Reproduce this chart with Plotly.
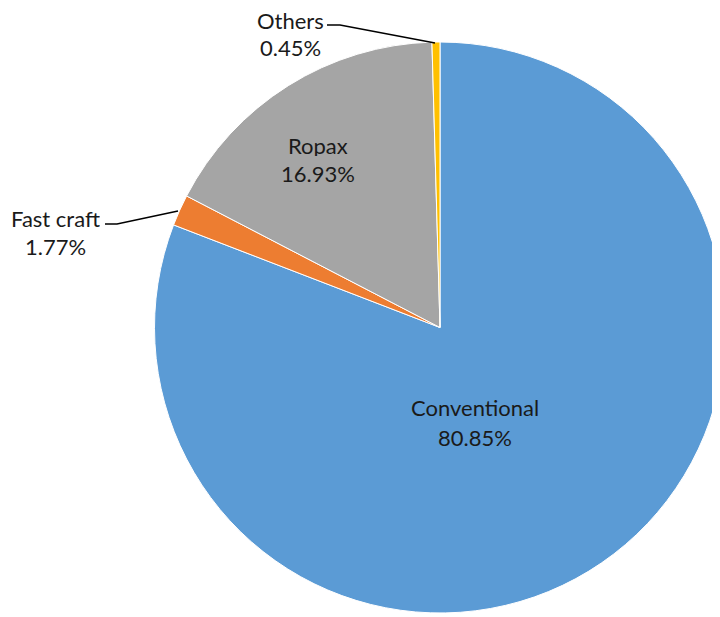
import plotly.graph_objects as go

labels = ["Conventional", "Fast craft", "Ropax", "Others"]
values = [80.85, 1.77, 16.93, 0.45]
colors = ["#5B9BD5", "#ED7D31", "#A5A5A5", "#FFC000"]

W, H = 720, 617
OFF = 8  # page body margin offset

def px(x, y):
    return (x - OFF) / W, 1 - (y - OFF) / H

# label placements (pixel centres for name line / percent line)
label_pos = {
    "Conventional": (475, 407, 437),
    "Ropax": (318, 145, 173),
    "Fast craft": (55, 218, 246),
    "Others": (290, 20, 47),
}
leaders = {
    "Fast craft": [(105, 224), (117, 224), (178, 211)],
    "Others": [(327, 25), (340, 25), (435, 43)],
}

x0, _ = px(153, 0)
x1, _ = px(727, 0)
_, y0 = px(0, 613)
_, y1 = px(0, 42)

fig = go.Figure(go.Pie(
    labels=labels,
    values=values,
    sort=False,
    direction="clockwise",
    rotation=0,
    marker=dict(colors=colors, line=dict(color="white", width=1)),
    textinfo="none",
    hoverinfo="label+percent",
    showlegend=False,
    domain=dict(x=[x0, min(x1, 1.0)], y=[y0, y1]),
))

font = dict(family="Lato, Open Sans, sans-serif", size=22, color="#1a1a1a")
total = sum(values)
annotations = []
for lab, val in zip(labels, values):
    cx, ya_px, yb_px = label_pos[lab]
    x, ya = px(cx, ya_px)
    _, yb = px(cx, yb_px)
    common = dict(xref="paper", yref="paper", showarrow=False, font=font,
                  xanchor="center", yanchor="middle", borderpad=0, height=22,
                  valign="middle")
    annotations.append(dict(x=x, y=ya, text=lab, **common))
    annotations.append(dict(x=x, y=yb, text=f"{val / total * 100:.2f}%", **common))

shapes = []
for lab, pts in leaders.items():
    path = "M " + " L ".join(f"{px(a, b)[0]},{px(a, b)[1]}" for a, b in pts)
    shapes.append(dict(type="path", xref="paper", yref="paper", path=path,
                       line=dict(color="black", width=1.5)))

fig.update_layout(
    width=W, height=H,
    margin=dict(l=0, r=0, t=0, b=0),
    paper_bgcolor="white",
    plot_bgcolor="white",
    annotations=annotations,
    shapes=shapes,
)

fig.write_html("out.html")
